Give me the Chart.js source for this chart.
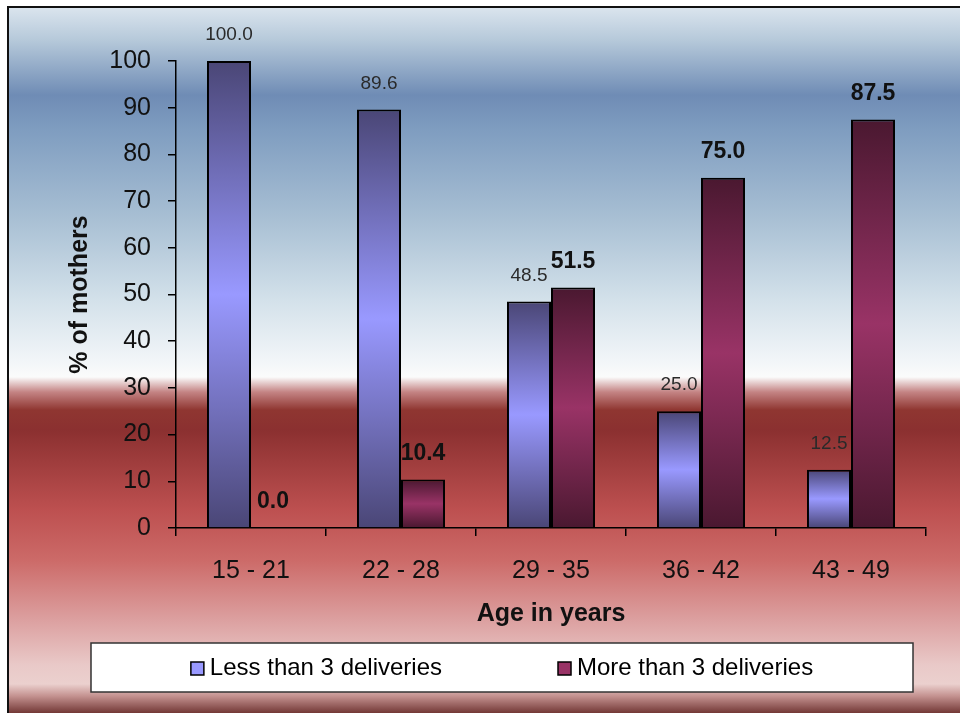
<!DOCTYPE html>
<html>
<head>
<meta charset="utf-8">
<title>Mothers by age and number of deliveries</title>
<script src="https://cdn.jsdelivr.net/npm/chart.js@4.4.1/dist/chart.umd.min.js"></script>
<style>
  body { margin: 0; background: #fff; }
  .wrap { width: 960px; height: 713px; position: relative; }
</style>
</head>
<body>
<div class="wrap"><canvas id="myChart"></canvas></div>
<script>
const ageGroups = ["15 - 21", "22 - 28", "29 - 35", "36 - 42", "43 - 49"];
const lessThan3 = [100.0, 89.6, 48.5, 25.0, 12.5];
const moreThan3 = [0.0, 10.4, 51.5, 75.0, 87.5];
const yTicks = [0, 10, 20, 30, 40, 50, 60, 70, 80, 90, 100];
const seriesNames = ["Less than 3 deliveries", "More than 3 deliveries"];

const FONT = "'Liberation Sans', Arial, sans-serif";

// vertical dark-light-dark fill, per bar
function barGradient(dark, light) {
  return (ctx) => {
    const chart = ctx.chart;
    if (!chart.chartArea || ctx.raw === undefined) return light;
    const y = chart.scales.y;
    const top = y.getPixelForValue(ctx.raw);
    const base = y.getPixelForValue(0);
    if (base - top < 1) return light;
    const g = chart.ctx.createLinearGradient(0, top, 0, base);
    g.addColorStop(0, dark);
    g.addColorStop(0.5, light);
    g.addColorStop(1, dark);
    return g;
  };
}

// sky-blue / white / dark red backdrop
const backdrop = {
  id: "backdrop",
  beforeDraw(chart) {
    const c = chart.ctx;
    const w = chart.width, h = chart.height;
    const stops = [
      [7, "#dbe5ee"], [40, "#b6c9da"], [95, "#6f8cb5"], [130, "#7f9dc0"],
      [220, "#a9c0d4"], [300, "#d3e1ea"], [360, "#f1f5f8"], [377, "#fbfbfb"],
      [392, "#c48484"], [410, "#8f3631"], [430, "#8b3030"], [510, "#bd5050"],
      [560, "#cc6a68"], [620, "#dca0a0"], [665, "#e9c9c8"], [684, "#ebd0ce"],
      [696, "#c49290"], [713, "#733836"]
    ];
    c.save();
    c.fillStyle = "#fff";
    c.fillRect(0, 0, w, h);
    const g = c.createLinearGradient(0, 7, 0, h);
    stops.forEach(([y, col]) => g.addColorStop((y - 7) / (h - 7), col));
    c.fillStyle = g;
    c.fillRect(8, 7, w - 8, h - 7);
    c.strokeStyle = "#111";
    c.lineWidth = 2;
    c.beginPath();
    c.moveTo(8, h);
    c.lineTo(8, 7);
    c.lineTo(w, 7);
    c.stroke();
    c.restore();
  }
};

//value labels above bars
const valueLabels = {
  id: "valueLabels",
  afterDatasetsDraw(chart) {
    const c = chart.ctx;
    chart.data.datasets.forEach((ds, i) => {
      const meta = chart.getDatasetMeta(i);
      c.save();
      c.font = i === 0 ? "19px " + FONT : "bold 23px " + FONT;
      c.fillStyle = i === 0 ? "#2a2a2a" : "#111";
      c.textAlign = "center";
      c.textBaseline = "middle";
      meta.data.forEach((bar, j) => {
        c.fillText(ds.data[j].toFixed(1), bar.x, bar.y - 26);
      });
      c.restore();
    });
  }
};

// boxed legend under the axis title
const boxLegend = {
  id: "boxLegend",
  afterDraw(chart) {
    const c = chart.ctx;
    const left = 91, right = 913, top = 643, bottom = 692;
    c.save();
    c.fillStyle = "#fff";
    c.fillRect(left, top, right - left, bottom - top);
    c.strokeStyle = "#333";
    c.lineWidth = 1.5;
    c.strokeRect(left, top, right - left, bottom - top);

    c.font = "24px " + FONT;
    const box = 13, gap = 6, spacing = 116;
    const items = chart.data.datasets.map((ds) => ({ text: ds.label, color: ds.legendColor }));
    const widths = items.map((it) => box + gap + c.measureText(it.text).width);
    const total = widths.reduce((a, b) => a + b, 0) + spacing * (items.length - 1);
    let x = (left + right) / 2 - total / 2;
    const cy = (top + bottom) / 2 + 1;
    items.forEach((it, i) => {
      c.fillStyle = it.color;
      c.fillRect(x, cy - box / 2, box, box);
      c.strokeStyle = "#000";
      c.lineWidth = 1.5;
      c.strokeRect(x, cy - box / 2, box, box);
      c.fillStyle = "#000";
      c.textAlign = "left";
      c.textBaseline = "middle";
      c.fillText(it.text, x + box + gap, cy);
      x += widths[i] + spacing;
    });
    c.restore();
  }
};

let myChart = document.getElementById("myChart").getContext("2d");

let deliveriesChart = new Chart(myChart, {
  type: "bar",
  data: {
    labels: ageGroups,
    datasets: [
      {
        label: seriesNames[0],
        data: lessThan3,
        backgroundColor: barGradient("#4a4676", "#9999ff"),
        legendColor: "#9999ff",
        borderColor: "#000",
        borderWidth: 2,
        barPercentage: 1,
        categoryPercentage: 0.587,
      },
      {
        label: seriesNames[1],
        data: moreThan3,
        backgroundColor: barGradient("#4a1830", "#993366"),
        legendColor: "#993366",
        borderColor: "#000",
        borderWidth: 2,
        barPercentage: 1,
        categoryPercentage: 0.587,
      },
    ],
  },
  options: {
    responsive: true,
    maintainAspectRatio: false,
    animation: false,
    layout: {
      padding: { top: 61, left: 40, right: 34, bottom: 69 },
    },
    plugins: {
      legend: { display: false },
      tooltip: { enabled: false },
    },
    scales: {
      x: {
        grid: {
          offset: true,
          drawOnChartArea: false,
          tickLength: 8,
          color: "#000",
          lineWidth: 1.5,
        },
        border: { color: "#000", width: 1.5 },
        ticks: {
          color: "#111",
          padding: 20,
          font: { family: FONT, size: 25 },
        },
        title: {
          display: true,
          text: "Age in years",
          color: "#111",
          font: { family: FONT, size: 25, weight: "bold" },
          padding: { top: 0, bottom: 15 },
        },
        afterFit(scale) {
          scale.height = 116;
        },
      },
      y: {
        min: yTicks[0],
        max: yTicks[yTicks.length - 1],
        grid: {
          drawOnChartArea: false,
          tickLength: 8,
          color: "#000",
          lineWidth: 1.5,
        },
        border: { color: "#000", width: 1.5 },
        ticks: {
          stepSize: yTicks[1] - yTicks[0],
          color: "#111",
          padding: 17,
          font: { family: FONT, size: 25 },
        },
        title: {
          display: true,
          text: "% of mothers",
          color: "#111",
          font: { family: FONT, size: 25, weight: "bold" },
          padding: { top: 25, bottom: 0 },
        },
        afterFit(scale) {
          scale.width = 136;
        },
      },
    },
  },
  plugins: [backdrop, valueLabels, boxLegend],
});
</script>
</body>
</html>
